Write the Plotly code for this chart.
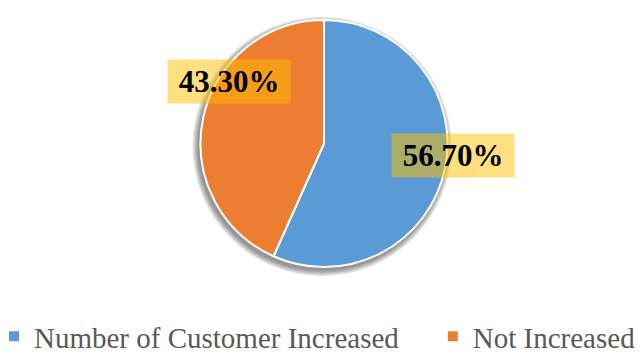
import plotly.graph_objects as go

categories = ["Number of Customer Increased", "Not Increased"]
values = [56.70, 43.30]
label_texts = ["56.70%", "43.30%"]
colors = ["#5B9BD5", "#ED7D31"]

W, H = 643, 354
cx, cy, r = 324, 143.5, 123.5

# legend entries padded with no-break spaces to reproduce the wide gap between items
legend_names = [categories[0] + "\u00a0" * 4, categories[1]]

fig = go.Figure()
fig.add_trace(go.Pie(
    labels=legend_names, values=values, sort=False, direction="clockwise", rotation=0,
    marker=dict(colors=colors, line=dict(color="white", width=2)),
    textinfo="none", customdata=categories, hovertemplate="%{customdata}: %{percent}<extra></extra>",
    domain=dict(x=[(cx - r) / W, (cx + r) / W], y=[1 - (cy + r) / H, 1 - (cy - r) / H]),
))

# soft drop shadow under the pie
for k in range(1, 8):
    rr = r + k * 0.9
    ox, oy = cx - 2, cy + 3
    fig.add_shape(type="circle", xref="paper", yref="paper", layer="below",
                  x0=(ox - rr) / W, x1=(ox + rr) / W, y0=1 - (oy + rr) / H, y1=1 - (oy - rr) / H,
                  fillcolor="rgba(0,0,0,0.07)", line=dict(width=0))

# label box centers in pixels (Excel best-fit positions)
label_pos = [(452.5, 155), (229, 81.5)]
for txt, (px, py) in zip(label_texts, label_pos):
    fig.add_annotation(
        x=px / W, y=1 - py / H, xref="paper", yref="paper", text=txt, showarrow=False,
        font=dict(family="Liberation Serif", size=31, color="black", weight="bold"),
        bgcolor="rgba(255,192,0,0.5)", width=116, height=37, borderpad=3,
        xanchor="center", yanchor="middle",
    )

fig.update_layout(
    width=W, height=H, margin=dict(l=0, r=0, t=0, b=0, autoexpand=False),
    paper_bgcolor="white", plot_bgcolor="white",
    legend=dict(orientation="h", x=-6 / W, xanchor="left", y=-8 / H, yanchor="bottom",
                font=dict(family="Liberation Serif", size=29, color="#595959"),
                itemwidth=30, traceorder="normal"),
)
fig.write_html("out.html")
